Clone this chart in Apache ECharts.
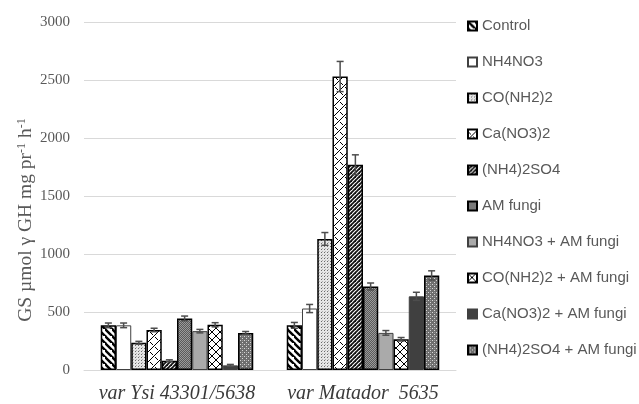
<!DOCTYPE html>
<html>
<head>
<meta charset="utf-8">
<script src="https://cdn.jsdelivr.net/npm/echarts@6/dist/echarts.min.js"></script>
<style>html,body{margin:0;padding:0;background:#fff}#c{width:639px;height:404px}</style>
</head>
<body>
<div id="c"></div>
<script>
const categories = ['var Ysi 43301/5638', 'var Matador  5635'];
const seriesNames = ['Control', 'NH4NO3', 'CO(NH2)2', 'Ca(NO3)2', '(NH4)2SO4', 'AM fungi',
  'NH4NO3 + AM fungi', 'CO(NH2)2 + AM fungi', 'Ca(NO3)2 + AM fungi', '(NH4)2SO4 + AM fungi'];
const ysiValues = [385, 385, 235, 345, 80, 445, 335, 390, 40, 320];
const matadorValues = [385, 530, 1130, 2530, 1770, 720, 320, 265, 635, 815];
const ysiErrors = [20, 20, 12, 15, 8, 20, 15, 18, 8, 12];
const matadorErrors = [25, 35, 55, 130, 85, 30, 20, 15, 35, 40];
const yTicks = [0, 500, 1000, 1500, 2000, 2500, 3000];

function tile(w, h, draw) {
  const c = document.createElement('canvas');
  c.width = w; c.height = h;
  const g = c.getContext('2d');
  draw(g, w, h);
  return { image: c, repeat: 'repeat' };
}
function line(g, x1, y1, x2, y2) { g.beginPath(); g.moveTo(x1, y1); g.lineTo(x2, y2); g.stroke(); }

const fills = [
  tile(7, 7, (g, w, h) => { g.fillStyle = '#fff'; g.fillRect(0, 0, w, h); g.strokeStyle = '#000'; g.lineWidth = 2.4;
    line(g, -1, -1, w + 1, h + 1); line(g, -w - 1, -1, 1, h + 1); line(g, w - 1, -h - 1, 2 * w + 1, 1); line(g, -1, h - 1, w + 1, 2 * h + 1); }),
  '#ffffff',
  tile(3, 3, (g, w, h) => { g.fillStyle = '#e6e6e6'; g.fillRect(0, 0, w, h); g.fillStyle = '#6a6a6a'; g.fillRect(0, 0, 1, 1); g.fillStyle = '#b0b0b0'; g.fillRect(1, 2, 1, 1); }),
  tile(10, 10, (g, w, h) => { g.fillStyle = '#fff'; g.fillRect(0, 0, w, h); g.strokeStyle = '#000'; g.lineWidth = 1;
    line(g, -1, h + 1, w + 1, -1); line(g, 0, 2, 3, 5); line(g, 5, 7, 8, 10); }),
  tile(4, 4, (g, w, h) => { g.fillStyle = '#fff'; g.fillRect(0, 0, w, h); g.strokeStyle = '#111'; g.lineWidth = 1.8;
    line(g, -1, h + 1, w + 1, -1); line(g, -w - 1, h + 1, 1, -1); line(g, w - 1, h + 1, 2 * w + 1, -1); }),
  tile(2, 2, (g, w, h) => { g.fillStyle = '#5a5a5a'; g.fillRect(0, 0, w, h); g.fillStyle = '#9a9a9a'; g.fillRect(0, 0, 1, 1); g.fillRect(1, 1, 1, 1); }),
  '#aaaaaa',
  tile(8, 8, (g, w, h) => { g.fillStyle = '#fff'; g.fillRect(0, 0, w, h); g.strokeStyle = '#000'; g.lineWidth = 1;
    line(g, -1, -1, w + 1, h + 1); line(g, -1, h + 1, w + 1, -1); }),
  '#404040',
  tile(4, 4, (g, w, h) => { g.fillStyle = '#6e6e6e'; g.fillRect(0, 0, w, h); g.fillStyle = '#d8d8d8'; g.fillRect(0, 0, 1, 1); g.fillRect(2, 2, 1, 1); g.fillStyle = '#999'; g.fillRect(2, 0, 1, 1); })
];
const borders = ['#000', '#404040', '#000', '#000', '#000', '#000', '#404040', '#000', '#404040', '#000'];
const borderWidths = [1.5, 1, 1.5, 1.5, 1.5, 1.5, 1, 1.5, 1, 1.5];

const barGapRatio = 0.18;
const series = seriesNames.map((name, i) => ({
  name: name,
  type: 'bar',
  barGap: '0%',
  barCategoryGap: '18%',
  data: [ysiValues[i], matadorValues[i]],
  itemStyle: { color: fills[i], borderColor: borders[i], borderWidth: borderWidths[i] },
  emphasis: { disabled: true }
}));

const errData = [];
seriesNames.forEach((n, i) => {
  errData.push([0, i, ysiValues[i], ysiErrors[i]]);
  errData.push([1, i, matadorValues[i], matadorErrors[i]]);
});
series.push({
  type: 'custom',
  name: 'err',
  data: errData,
  encode: { x: 0, y: 2 },
  z: 10,
  silent: true,
  renderItem: function (params, api) {
    const ci = api.value(0), si = api.value(1), v = api.value(2), e = api.value(3);
    const band = api.size([1, 0])[0];
    const bw = band * (1 - barGapRatio) / seriesNames.length;
    const c = api.coord([ci, v]);
    const x = c[0] + (si - (seriesNames.length - 1) / 2) * bw;
    const yT = api.coord([ci, v + e])[1];
    const yB = api.coord([ci, Math.max(0, v - e)])[1];
    const cap = 3.5;
    const st = { stroke: '#4d4d4d', lineWidth: 1.5 };
    return { type: 'group', children: [
      { type: 'line', shape: { x1: x, y1: yT, x2: x, y2: yB }, style: st },
      { type: 'line', shape: { x1: x - cap, y1: yT, x2: x + cap, y2: yT }, style: st },
      { type: 'line', shape: { x1: x - cap, y1: yB, x2: x + cap, y2: yB }, style: st }
    ] };
  }
});

const chart = echarts.init(document.getElementById('c'), null, { renderer: 'canvas' });
chart.setOption({
  animation: false,
  backgroundColor: '#ffffff',
  grid: { left: 84, right: 183, top: 22, bottom: 32, containLabel: false },
  xAxis: {
    type: 'category',
    data: categories,
    axisTick: { show: false },
    axisLine: { lineStyle: { color: '#d9d9d9', width: 1 } },
    axisLabel: { interval: 0, hideOverlap: false, margin: 14, color: '#3a3a3a', fontFamily: 'Liberation Serif', fontStyle: 'italic', fontSize: 20 }
  },
  yAxis: {
    type: 'value',
    min: yTicks[0],
    max: yTicks[yTicks.length - 1],
    interval: 500,
    axisLine: { show: false },
    axisTick: { show: false },
    splitLine: { lineStyle: { color: '#d9d9d9', width: 1 } },
    axisLabel: { margin: 14, color: '#595959', fontFamily: 'Liberation Serif', fontSize: 15, formatter: v => String(v) }
  },
  legend: {
    data: seriesNames,
    orient: 'vertical',
    left: 462,
    top: 12,
    itemWidth: 9,
    itemHeight: 9,
    itemGap: 18,
    icon: 'rect',
    selectedMode: false,
    textStyle: { color: '#595959', fontFamily: 'Liberation Sans', fontSize: 15, lineHeight: 18 }
  },
  graphic: [{
    type: 'text',
    x: 26,
    y: 220,
    rotation: Math.PI / 2,
    style: {
      text: '{a|GS µmol γ GH mg pr}{s|-1}{a| h}{s|-1}',
      textAlign: 'center',
      textVerticalAlign: 'middle',
      rich: {
        a: { fontFamily: 'Liberation Serif', fontSize: 19.5, fill: '#595959', color: '#595959' },
        s: { fontFamily: 'Liberation Serif', fontSize: 12, fill: '#595959', color: '#595959', verticalAlign: 'top', padding: [0, 0, 9, 0] }
      }
    }
  }],
  series: series
});
</script>
</body>
</html>
